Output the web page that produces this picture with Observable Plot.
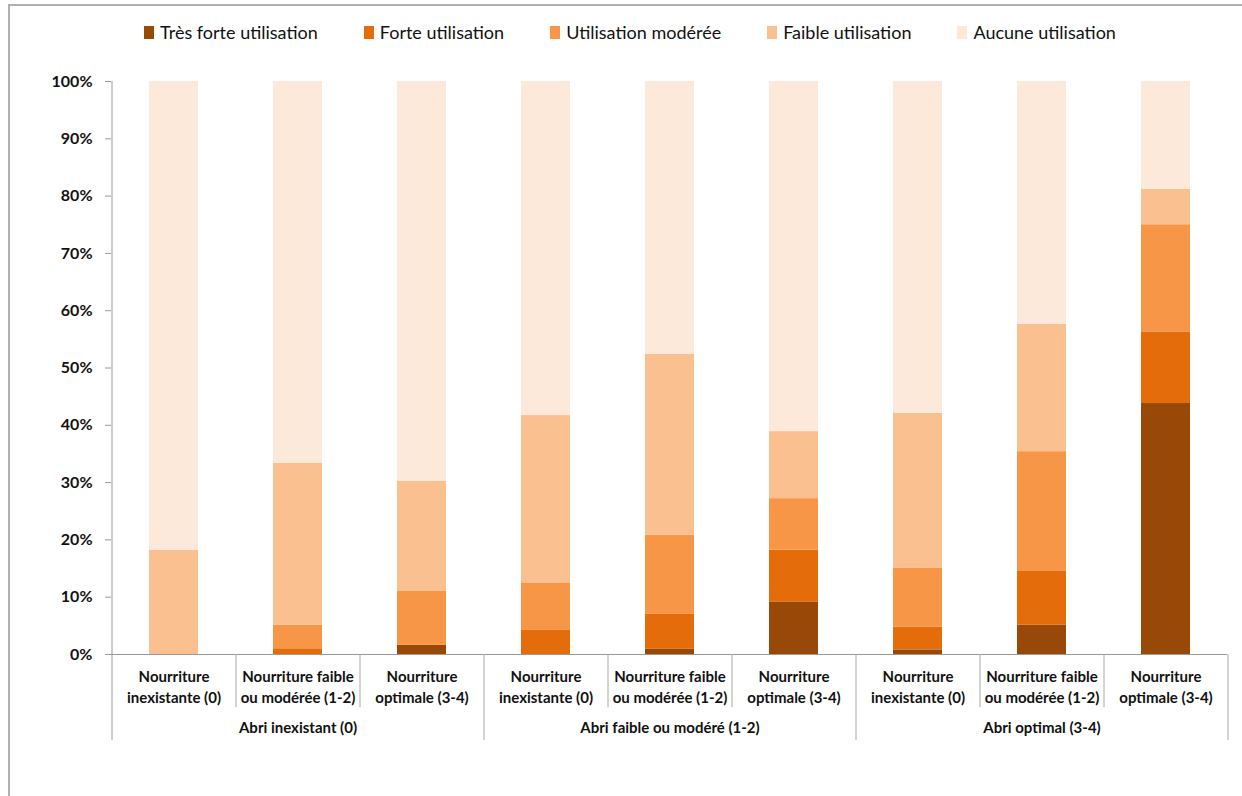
<!DOCTYPE html>
<html>
<head>
<meta charset="utf-8">
<script src="https://cdn.jsdelivr.net/npm/d3@7"></script>
<script src="https://cdn.jsdelivr.net/npm/@observablehq/plot@0.6"></script>
<style>
  html, body { margin: 0; padding: 0; background: #fff; }
  body { width: 1242px; height: 796px; position: relative; overflow: hidden; font-family: Lato, "Open Sans", sans-serif; }
  #frame { position: absolute; left: 8px; top: 4px; right: -10px; bottom: -10px; border-left: 2px solid #b0b0b0; border-top: 2px solid #b0b0b0; }
  #legend { position: absolute; top: 21px; left: 0; width: 1260px; display: flex; justify-content: center; gap: 46px; font-size: 18px; color: #111; }
  #legend .item { display: flex; align-items: center; }
  #legend .sw { width: 10px; height: 13px; margin-right: 6px; display: inline-block; }
  #chart { position: absolute; left: 0; top: 0; }
</style>
</head>
<body>
<div id="frame"></div>
<div id="chart"></div>
<div id="legend"></div>
<script>
const categories = ["Nourriture\ninexistante (0)", "Nourriture faible\nou modérée (1-2)", "Nourriture\noptimale (3-4)"];
const groups = ["Abri inexistant (0)", "Abri faible ou modéré (1-2)", "Abri optimal (3-4)"];
const series = ["Très forte utilisation", "Forte utilisation", "Utilisation modérée", "Faible utilisation", "Aucune utilisation"];
const colors = ["#984807", "#E46C0A", "#F79646", "#FAC090", "#FDE9D9"];
const yTicks = [0, 10, 20, 30, 40, 50, 60, 70, 80, 90, 100];

// values per bar, in order: group 1 (3 food levels), group 2, group 3
const tresForte = [0, 0, 1.6, 0, 0.9, 9.1, 0.8, 5.1, 43.8];
const forte     = [0, 1.0, 0, 4.2, 6.1, 9.1, 4.0, 9.5, 12.5];
const moderee   = [0, 4.1, 9.5, 8.3, 13.8, 9.0, 10.3, 20.8, 18.7];
const faible    = [18.2, 28.3, 19.1, 29.2, 31.6, 11.7, 27.0, 22.2, 6.2];
const aucune    = [81.8, 66.6, 69.8, 58.3, 47.6, 61.1, 57.9, 42.4, 18.8];
const seriesValues = [tresForte, forte, moderee, faible, aucune];

const bars = [];
groups.forEach((g, gi) => categories.forEach((c, ci) => bars.push({key: gi + "-" + ci, group: g, cat: c, gi, ci})));
const keys = bars.map(b => b.key);

const data = [];
series.forEach((s, si) => bars.forEach((b, bi) => data.push({key: b.key, series: s, value: seriesValues[si][bi]})));

const W = 1242, H = 796, mL = 111, mR = 15, mT = 81, mB = 142;
const step = (W - mL - mR) / keys.length;
const pad = 0.605;

const innerSeps = bars.filter(b => b.ci !== 0);
const groupSeps = bars.filter(b => b.ci === 0 && b.gi !== 0);
const lastKey = keys[keys.length - 1];

const chart = Plot.plot({
  width: W, height: H,
  marginLeft: mL, marginRight: mR, marginTop: mT, marginBottom: mB,
  style: {fontFamily: "Lato, 'Open Sans', sans-serif", background: "transparent"},
  x: {domain: keys, paddingInner: pad, paddingOuter: pad / 2, axis: null},
  y: {domain: [0, 100], label: null},
  color: {domain: series, range: colors},
  marks: [
    Plot.axisY({ticks: yTicks, tickFormat: d => d + "%", tickSize: 6, tickPadding: 13, fontSize: 16, fontWeight: "bold", fill: "#111", stroke: "#9a9a9a", label: null}),
    Plot.barY(data, {x: "key", y: "value", fill: "series", order: series}),
    Plot.ruleY([0], {stroke: "#9a9a9a"}),
    Plot.ruleX(innerSeps, {x: "key", dx: -step / 2, y1: 0, y2: -9.3, stroke: "#a8a8a8"}),
    Plot.ruleX(groupSeps, {x: "key", dx: -step / 2, y1: 0, y2: -15, stroke: "#a8a8a8"}),
    Plot.ruleX([lastKey], {x: d => d, dx: step / 2, y1: 0, y2: -15, stroke: "#a8a8a8"}),
    Plot.ruleX([keys[0]], {x: d => d, dx: -step / 2, y1: 100, y2: -15, stroke: "#9a9a9a"}),
    Plot.text(bars, {x: "key", y: 0, text: "cat", dy: 13, lineAnchor: "top", lineHeight: 1.4, fontSize: 15, fontWeight: "bold", fill: "#111"}),
    Plot.text(bars.filter(b => b.ci === 1), {x: "key", y: 0, text: "group", dy: 74, fontSize: 15, fontWeight: "bold", fill: "#111"})
  ]
});
document.getElementById("chart").appendChild(chart);

const legend = document.getElementById("legend");
series.forEach((s, i) => {
  const item = document.createElement("div");
  item.className = "item";
  const sw = document.createElement("span");
  sw.className = "sw";
  sw.style.background = colors[i];
  item.appendChild(sw);
  item.appendChild(document.createTextNode(s));
  legend.appendChild(item);
});
</script>
</body>
</html>
